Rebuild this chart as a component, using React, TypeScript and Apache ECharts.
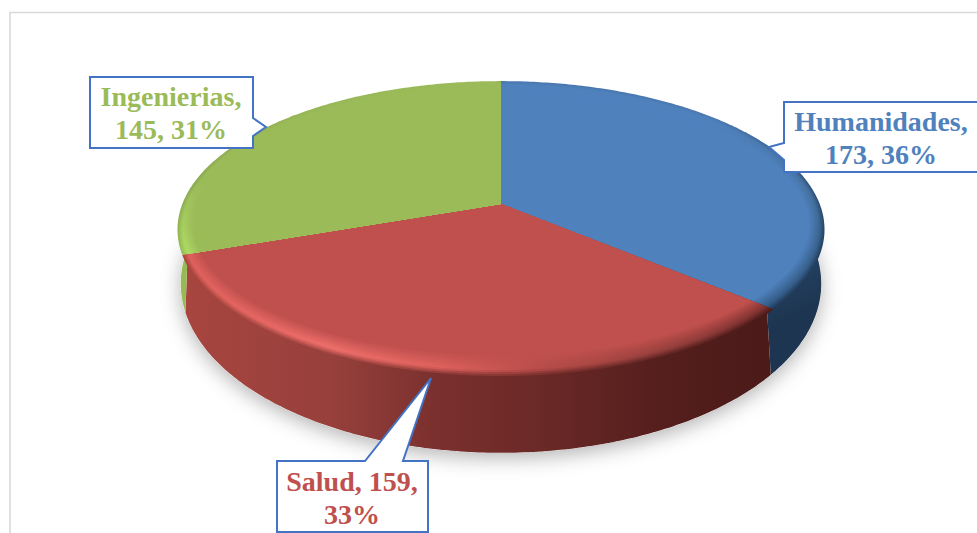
import React, { useEffect, useRef } from "react";
import * as echarts from "echarts";

const categories = ["Humanidades", "Salud", "Ingenierias"];
const values = [173, 159, 145];
const percents = [36, 33, 31];
const labelBreaks = [1, 2, 1]; // number of comma-separated parts on the first line
const baseColors = ["#4f81bd", "#c0504d", "#9bbb59"];

// Projection of the pie (a tilted disc) on the screen
const CX = 501;
const TOP_Y = 204;
const A = 318.7;
const B = 144;
const K = 0.1717;
const WALL_SX = 0.99;
const WALL_SY = 1.14;
const WALL_Y = 254.6;

type Stop = [number, string, string]; // offset, rim colour, wall colour
const shading: { from: number[]; to: number[]; stops: Stop[] }[] = [
  {
    from: [730, 110],
    to: [825, 300],
    stops: [
      [0, "#4f81bd", "#4a78b0"],
      [0.5, "#44719f", "#2e527c"],
      [1, "#2f5680", "#1d3550"],
    ],
  },
  {
    from: [183, 0],
    to: [775, 0],
    stops: [
      [0, "#e0605c", "#a8453f"],
      [0.25, "#ef6f6b", "#97403c"],
      [0.43, "#e0625e", "#7a302e"],
      [0.6, "#b84c49", "#6b2927"],
      [0.8, "#97403d", "#551f1d"],
      [1, "#7a2f2d", "#4a1a19"],
    ],
  },
  {
    from: [0, 80],
    to: [0, 250],
    stops: [
      [0, "#9bbb59", "#9bbb59"],
      [0.6, "#9bbb59", "#8aa84f"],
      [1, "#aedb63", "#96bb55"],
    ],
  },
];

const total = values.reduce((a, b) => a + b, 0);

function project(u: number, v: number) {
  const d = 1 + K * v;
  return [(A * u) / d, (B * v) / d];
}
function topPoint(th: number, t = 0) {
  const u = Math.sin(th);
  const v = Math.cos(th);
  const rho = 1 - t * (0.045 * u * u + 0.11 * v * v);
  const [x, y] = project(u * rho, v * rho);
  return [CX + x, TOP_Y - y];
}
function wallPoint(th: number) {
  const [x, y] = project(Math.sin(th), Math.cos(th));
  return [CX + x * WALL_SX, WALL_Y - y * WALL_SY];
}
function range(i: number) {
  let s = 0;
  for (let j = 0; j < i; j++) s += values[j];
  return [(s / total) * Math.PI * 2, ((s + values[i]) / total) * Math.PI * 2];
}
function arc(a0: number, a1: number, f: (th: number) => number[]) {
  const n = Math.max(8, Math.ceil((a1 - a0) / 0.012));
  const out: number[][] = [];
  for (let i = 0; i <= n; i++) out.push(f(a0 + ((a1 - a0) * i) / n));
  return out;
}
function hex(c: string) {
  return [1, 3, 5].map((p) => parseInt(c.slice(p, p + 2), 16));
}
function mix(a: string, b: string, t: number) {
  const x = hex(a);
  const y = hex(b);
  const z = x.map((q, i) => Math.round(q + (y[i] - q) * t));
  return `rgb(${z[0]},${z[1]},${z[2]})`;
}
function grad(i: number, color: (s: Stop) => string) {
  const g = shading[i];
  return new echarts.graphic.LinearGradient(
    g.from[0],
    g.from[1],
    g.to[0],
    g.to[1],
    g.stops.map((s) => ({ offset: s[0], color: color(s) })),
    true
  );
}

const renderWall = (params: any, api: any) => {
  const i = params.dataIndex;
  api.value(0);
  const [a0, a1] = range(i);
  const children: any[] = [];
  if (i === 0) {
    children.push({
      type: "polygon",
      silent: true,
      shape: { points: arc(0, Math.PI * 2, wallPoint) },
      style: {
        fill: "#ffffff",
        shadowBlur: 20,
        shadowColor: "rgba(0,0,0,0.3)",
        shadowOffsetY: 5,
      },
    });
  }
  const pts = [
    ...arc(a0, a1, (t) => topPoint(t, 0.3)),
    ...arc(a0, a1, wallPoint).reverse(),
  ];
  children.push({
    type: "polygon",
    shape: { points: pts },
    style: { fill: grad(i, (s) => s[2]) },
  });
  return { type: "group", children };
};

const LAYERS = 12;
const renderTop = (params: any, api: any) => {
  const i = params.dataIndex;
  api.value(0);
  const [a0, a1] = range(i);
  const center = [CX, TOP_Y];
  const children: any[] = [];
  for (let k = 0; k <= LAYERS; k++) {
    const t = k / LAYERS;
    const fill =
      k === LAYERS
        ? baseColors[i]
        : grad(i, (s) =>
            t < 0.3
              ? mix(s[2], s[1], t / 0.3)
              : mix(s[1], baseColors[i], (t - 0.3) / 0.7)
          );
    children.push({
      type: "polygon",
      shape: { points: [center, ...arc(a0, a1, (th) => topPoint(th, t))] },
      style: { fill },
    });
  }
  return { type: "group", children };
};

function labelText(i: number) {
  const parts = [`${categories[i]},`, `${values[i]},`, `${percents[i]}%`];
  const n = labelBreaks[i];
  return parts.slice(0, n).join(" ") + "\n" + parts.slice(n).join(" ");
}

function callout(i: number, points: number[][], x: number, y: number) {
  return [
    {
      type: "polygon",
      z: 20,
      shape: { points },
      style: { fill: "#ffffff", stroke: "#4472c4", lineWidth: 2 },
    },
    {
      type: "text",
      z: 21,
      style: {
        text: labelText(i),
        x,
        y,
        align: "center",
        verticalAlign: "middle",
        lineHeight: 33,
        fontFamily: "Liberation Serif",
        fontWeight: "bold",
        fontSize: 28,
        fill: baseColors[i],
      },
    },
  ];
}

export default function App() {
  const ref = useRef<HTMLDivElement>(null);
  useEffect(() => {
    const chart = echarts.init(ref.current!, undefined, { renderer: "svg" });
    chart.setOption({
      animation: false,
      backgroundColor: "#ffffff",
      graphic: [
        {
          type: "polyline",
          z: 1,
          shape: { points: [[10, 533], [10, 12.5], [977, 12.5]] },
          style: { fill: "none", stroke: "#d9d9d9", lineWidth: 1.6 },
        },
        ...callout(2, [[90, 77], [253, 77], [253, 118], [266, 127], [253, 136], [253, 148], [90, 148]], 171, 113),
        ...callout(0, [[784, 102], [985, 102], [985, 172], [784, 172], [784, 160], [769, 147], [784, 143]], 881, 138),
        ...callout(1, [[277, 461], [365, 461], [431, 378], [403, 461], [428, 461], [428, 532], [277, 532]], 352, 498),
      ],
      series: [
        { type: "custom", coordinateSystem: "none", z: 2, silent: true, data: values, renderItem: renderWall },
        { type: "custom", coordinateSystem: "none", z: 3, silent: true, data: values, renderItem: renderTop },
      ],
    });
    return () => chart.dispose();
  }, []);
  return (
    <div
      ref={ref}
      style={{ position: "absolute", left: 0, top: 0, width: 977, height: 533 }}
    />
  );
}
